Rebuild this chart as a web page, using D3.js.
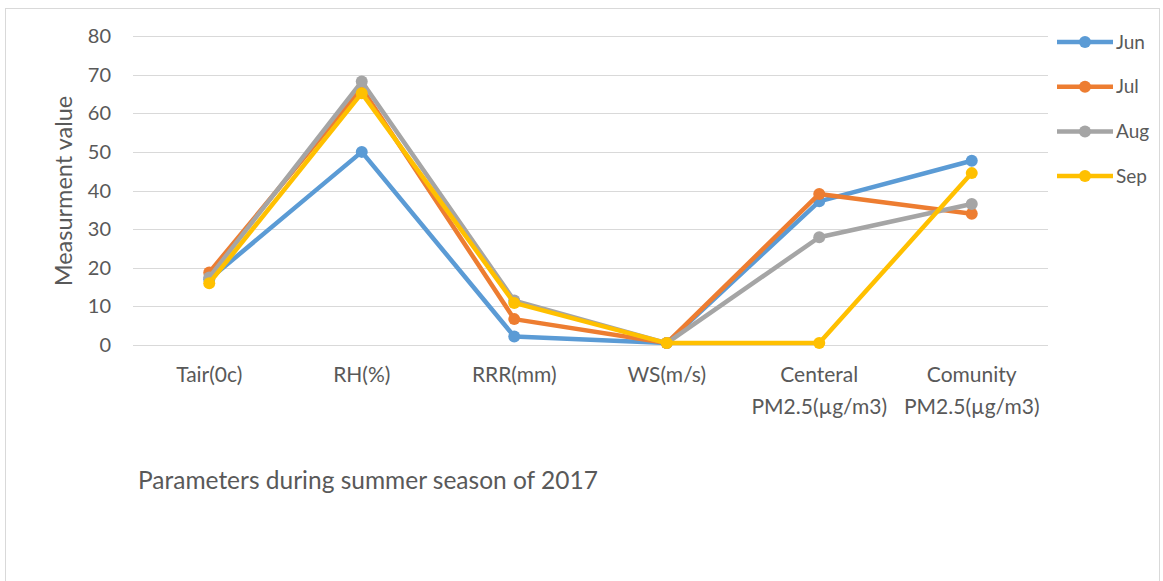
<!DOCTYPE html>
<html>
<head>
<meta charset="utf-8">
<script src="https://cdn.jsdelivr.net/npm/d3@7"></script>
<style>
  body { margin: 0; background: #fff; }
  svg { display: block; font-family: Lato, "Open Sans", sans-serif; }
</style>
</head>
<body>
<svg id="chart" width="1163" height="581"></svg>
<script>
const categories = ["Tair(0c)", "RH(%)", "RRR(mm)", "WS(m/s)", "Centeral\nPM2.5(µg/m3)", "Comunity\nPM2.5(µg/m3)"];
const months = ["Jun", "Jul", "Aug", "Sep"];
const colors = ["#5B9BD5", "#ED7D31", "#A5A5A5", "#FFC000"];
const jun = [17, 50, 2.2, 0.5, 37.2, 47.7];
const jul = [18.8, 66.5, 6.7, 0.5, 39.1, 34];
const aug = [17.5, 68.2, 11.5, 0.5, 27.9, 36.5];
const sep = [16, 65.2, 10.9, 0.5, 0.5, 44.5];
const yTicks = [0, 10, 20, 30, 40, 50, 60, 70, 80];
const yTitle = "Measurment value";
const subtitle = "Parameters during summer season of 2017";

const seriesValues = [jun, jul, aug, sep];
const series = months.map((m, i) => ({ name: m, color: colors[i], values: seriesValues[i] }));

const svg = d3.select("#chart");
const margin = { top: 36, left: 133, right: 1048, bottom: 345 };
const textColor = "#595959";

// outer frame
svg.append("rect")
  .attr("x", 5.5).attr("y", 8.5)
  .attr("width", 1154).attr("height", 580)
  .attr("fill", "none")
  .attr("stroke", "#d9d9d9");

const x = d3.scalePoint()
  .domain(d3.range(categories.length))
  .range([margin.left, margin.right])
  .padding(0.5);

const y = d3.scaleLinear()
  .domain([0, 80])
  .range([margin.bottom, margin.top]);

// gridlines
svg.append("g")
  .selectAll("line")
  .data(yTicks)
  .join("line")
  .attr("x1", margin.left)
  .attr("x2", margin.right)
  .attr("y1", d => Math.round(y(d)) + 0.5)
  .attr("y2", d => Math.round(y(d)) + 0.5)
  .attr("stroke", "#d9d9d9")
  .attr("stroke-width", 1);

// y axis labels
svg.append("g")
  .selectAll("text")
  .data(yTicks)
  .join("text")
  .attr("x", 111)
  .attr("y", d => y(d))
  .attr("dy", "0.35em")
  .attr("text-anchor", "end")
  .attr("fill", textColor)
  .style("font-size", "20px")
  .text(d => d);

svg.append("text")
  .attr("transform", `translate(72, 191) rotate(-90)`)
  .attr("text-anchor", "middle")
  .attr("fill", textColor)
  .style("font-size", "23.5px")
  .text(yTitle);

// x labels
const xl = svg.append("g")
  .selectAll("text")
  .data(categories)
  .join("text")
  .attr("x", (d, i) => x(i))
  .attr("y", 382)
  .attr("text-anchor", "middle")
  .attr("fill", textColor)
  .style("font-size", "21px");
xl.selectAll("tspan")
  .data(d => d.split("\n"))
  .join("tspan")
  .attr("x", function () { return this.parentNode.getAttribute("x"); })
  .attr("dy", (d, i) => i === 0 ? 0 : 32)
  .text(d => d);

// lines
const line = d3.line()
  .x((d, i) => x(i))
  .y(d => y(d));

const sg = svg.append("g")
  .selectAll("g")
  .data(series)
  .join("g");

sg.append("path")
  .attr("d", d => line(d.values))
  .attr("fill", "none")
  .attr("stroke", d => d.color)
  .attr("stroke-width", 4.5)
  .attr("stroke-linejoin", "round");

sg.selectAll("circle")
  .data(d => d.values.map(v => ({ v, color: d.color })))
  .join("circle")
  .attr("cx", (d, i) => x(i))
  .attr("cy", d => y(d.v))
  .attr("r", 6)
  .attr("fill", d => d.color);

// legend
const lg = svg.append("g")
  .selectAll("g")
  .data(series)
  .join("g")
  .attr("transform", (d, i) => `translate(1057, ${42 + i * 44.7})`);

lg.append("line")
  .attr("x1", 0).attr("x2", 56)
  .attr("stroke", d => d.color)
  .attr("stroke-width", 4.5);
lg.append("circle")
  .attr("cx", 28).attr("r", 6)
  .attr("fill", d => d.color);
lg.append("text")
  .attr("x", 59)
  .attr("dy", "0.35em")
  .attr("fill", textColor)
  .style("font-size", "19px")
  .text(d => d.name);

svg.append("text")
  .attr("x", 138)
  .attr("y", 489)
  .attr("fill", textColor)
  .style("font-size", "24.5px")
  .text(subtitle);
</script>
</body>
</html>
